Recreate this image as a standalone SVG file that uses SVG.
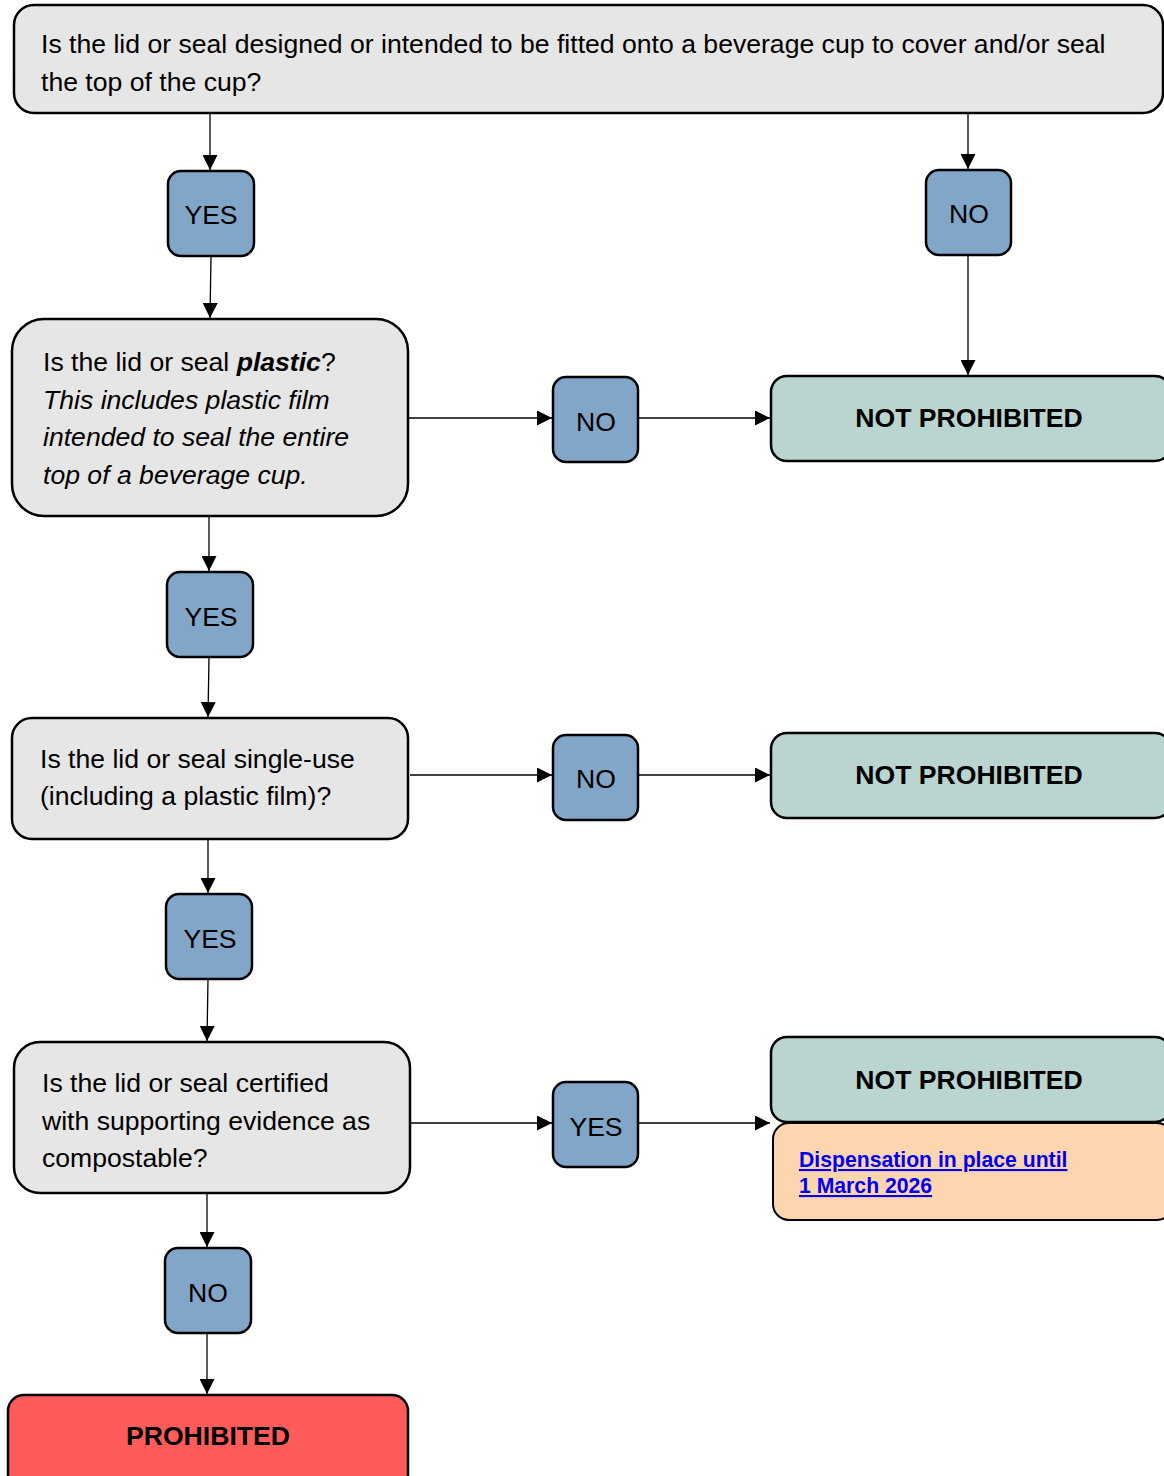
<svg xmlns="http://www.w3.org/2000/svg" width="1164" height="1476" viewBox="0 0 1164 1476">
<style>
text{font-family:"Liberation Sans",Arial,sans-serif;font-size:26.6px;fill:#000}
.q{fill:#e6e6e6;stroke:#000;stroke-width:2.5}
.a{fill:#82a6c8;stroke:#000;stroke-width:2.5}
.np{fill:#bad5cf;stroke:#000;stroke-width:2.5}
.d{fill:#fdd6b0;stroke:#000;stroke-width:2}
.p{fill:#ff5b5b;stroke:#000;stroke-width:2.5}
.c{stroke:#000;stroke-width:1.3;fill:none;marker-end:url(#ah)}
.b{font-weight:bold}
.m{text-anchor:middle}
.lk{font-size:21.2px;font-weight:bold;fill:#0000ee;text-decoration:underline}
</style>
<defs>
<marker id="ah" viewBox="0 0 10 10" refX="10" refY="5" markerWidth="15" markerHeight="15" markerUnits="userSpaceOnUse" orient="auto">
<path d="M0,0 L10,5 L0,10 z" fill="#000"/>
</marker>
</defs>
<g id="connectors">
<path class="c" d="M210,113 L210,170"/>
<path class="c" d="M968,113 L968,169"/>
<path class="c" d="M968,255 L968,375"/>
<path class="c" d="M211,256 L210,318"/>
<path class="c" d="M409,418 L552,418"/>
<path class="c" d="M638,418 L770,418"/>
<path class="c" d="M209,516 L209,571"/>
<path class="c" d="M209,657 L208,717"/>
<path class="c" d="M410,775 L552,775"/>
<path class="c" d="M638,775 L770,775"/>
<path class="c" d="M208,839 L208,893"/>
<path class="c" d="M208,979 L207,1041"/>
<path class="c" d="M410,1123 L552,1123"/>
<path class="c" d="M638,1123 L770,1123"/>
<path class="c" d="M207,1193 L207,1247"/>
<path class="c" d="M207,1333 L207,1394"/>
</g>
<g id="q1">
<rect class="q" x="14" y="5" width="1149" height="108" rx="20"/>
<text x="41" y="53">Is the lid or seal designed or intended to be fitted onto a beverage cup to cover and/or seal</text>
<text x="41" y="91">the top of the cup?</text>
</g>
<g id="yes1"><rect class="a" x="168" y="171" width="86" height="85" rx="13"/><text class="m" x="211" y="224">YES</text></g>
<g id="no1"><rect class="a" x="926" y="170" width="85" height="85" rx="13"/><text class="m" x="969" y="223">NO</text></g>
<g id="q2">
<rect class="q" x="12" y="319" width="396" height="197" rx="32"/>
<text x="43" y="371">Is the lid or seal <tspan class="b" font-style="italic">plastic</tspan>?</text>
<text x="43" y="409" font-style="italic">This includes plastic film</text>
<text x="43" y="446" font-style="italic">intended to seal the entire</text>
<text x="43" y="484" font-style="italic">top of a beverage cup.</text>
</g>
<g id="no2"><rect class="a" x="553" y="377" width="85" height="85" rx="13"/><text class="m" x="596" y="431">NO</text></g>
<g id="np1"><rect class="np" x="771" y="376" width="400" height="85" rx="16"/><text class="m b" x="969" y="427">NOT PROHIBITED</text></g>
<g id="yes2"><rect class="a" x="167" y="572" width="86" height="85" rx="13"/><text class="m" x="211" y="626">YES</text></g>
<g id="q3">
<rect class="q" x="12" y="718" width="396" height="121" rx="20"/>
<text x="40" y="768">Is the lid or seal single-use</text>
<text x="40" y="805">(including a plastic film)?</text>
</g>
<g id="no3"><rect class="a" x="553" y="735" width="85" height="85" rx="13"/><text class="m" x="596" y="788">NO</text></g>
<g id="np2"><rect class="np" x="771" y="733" width="400" height="85" rx="16"/><text class="m b" x="969" y="784">NOT PROHIBITED</text></g>
<g id="yes3"><rect class="a" x="166" y="894" width="86" height="85" rx="13"/><text class="m" x="210" y="948">YES</text></g>
<g id="q4">
<rect class="q" x="14" y="1042" width="396" height="151" rx="26"/>
<text x="42" y="1092">Is the lid or seal certified</text>
<text x="42" y="1130">with supporting evidence as</text>
<text x="42" y="1167">compostable?</text>
</g>
<g id="yes4"><rect class="a" x="553" y="1082" width="85" height="85" rx="13"/><text class="m" x="596" y="1136">YES</text></g>
<g id="np3"><rect class="np" x="771" y="1037" width="400" height="85" rx="16"/><text class="m b" x="969" y="1089">NOT PROHIBITED</text></g>
<g id="disp">
<rect class="d" x="773" y="1123" width="400" height="97" rx="16"/>
<text class="lk" x="799" y="1167">Dispensation in place until</text>
<text class="lk" x="799" y="1193">1 March 2026</text>
</g>
<g id="no4"><rect class="a" x="165" y="1248" width="86" height="85" rx="13"/><text class="m" x="208" y="1302">NO</text></g>
<g id="prohibited"><rect class="p" x="8" y="1395" width="400" height="100" rx="16"/><text class="m b" x="208" y="1445">PROHIBITED</text></g>
</svg>
